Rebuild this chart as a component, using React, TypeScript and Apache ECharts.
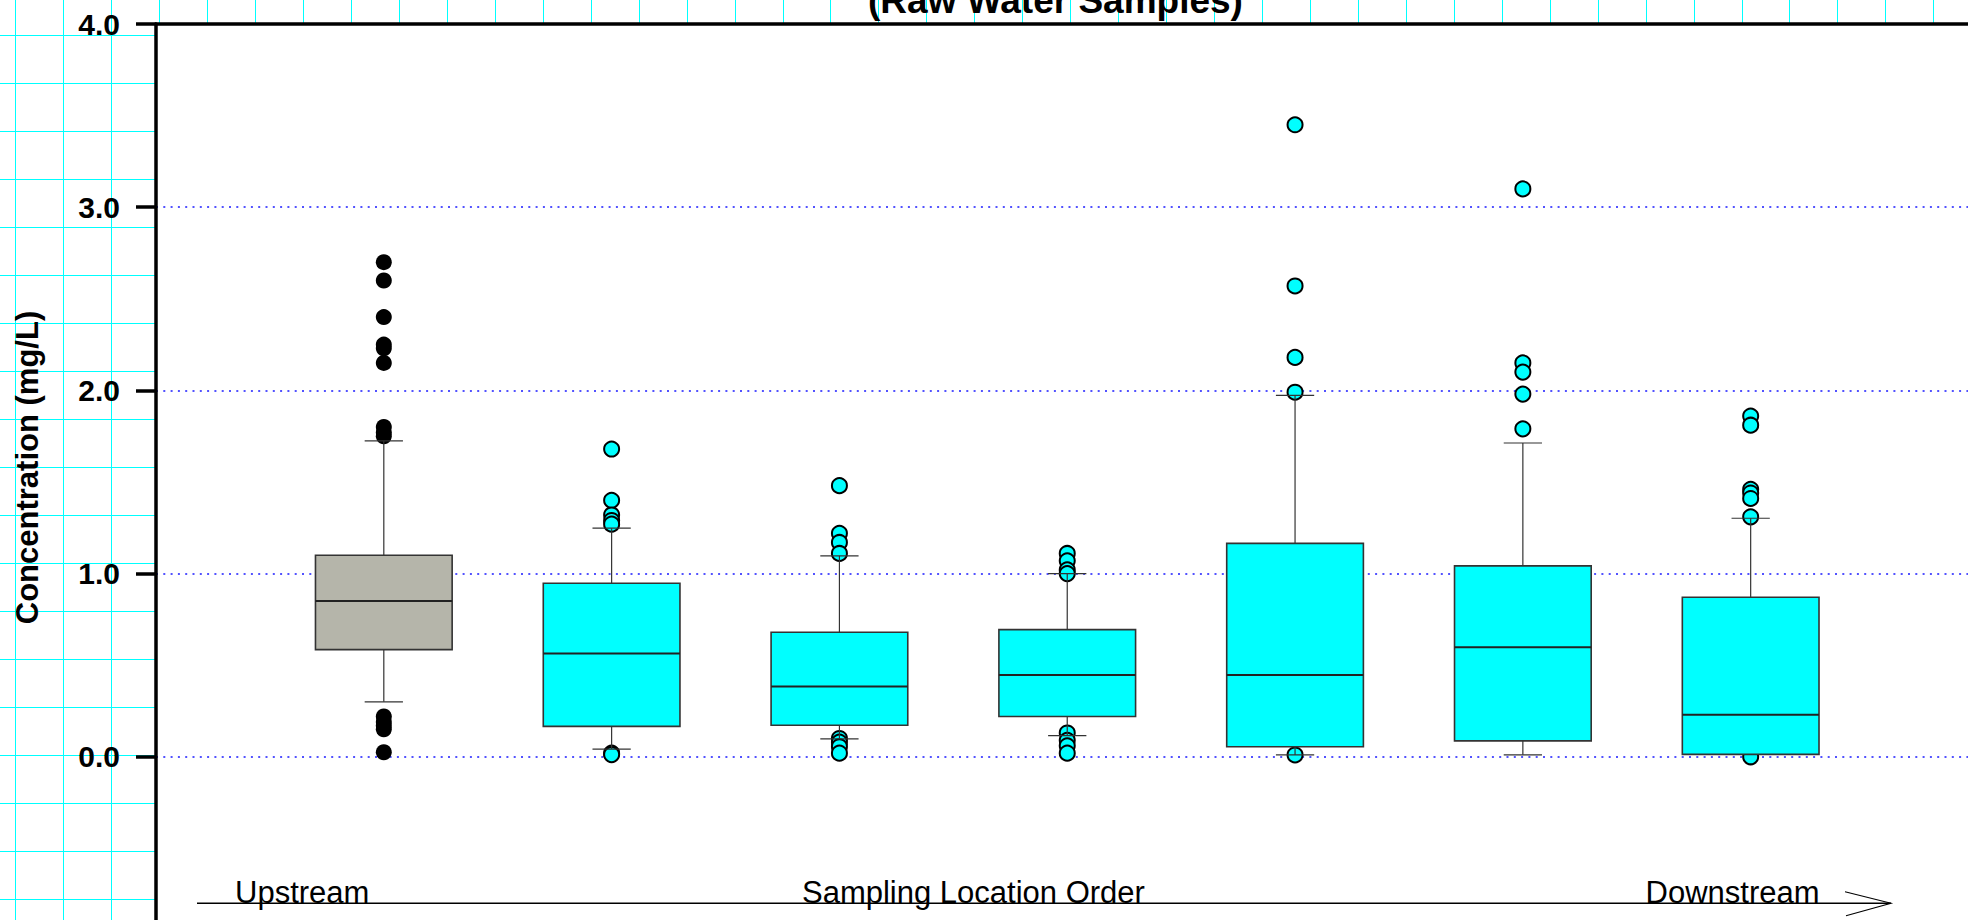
import React, { useEffect, useRef } from "react";
import * as echarts from "echarts";

// ---- Data ----
const categories = ["Location 1", "Location 2", "Location 3", "Location 4", "Location 5", "Location 6", "Location 7"];
const whiskerLow = [0.30, 0.042, 0.098, 0.116, 0.01, 0.011, 0.013];
const q1 = [0.585, 0.166, 0.172, 0.22, 0.055, 0.087, 0.013];
const median = [0.85, 0.564, 0.384, 0.447, 0.446, 0.598, 0.229];
const q3 = [1.10, 0.947, 0.68, 0.694, 1.165, 1.042, 0.871];
const whiskerHigh = [1.725, 1.248, 1.097, 1.0, 1.973, 1.713, 1.302];
const outliers = [
  [2.70, 2.60, 2.40, 2.25, 2.23, 2.15, 1.80, 1.77, 1.75, 0.22, 0.19, 0.17, 0.15, 0.025],
  [1.68, 1.40, 1.32, 1.29, 1.27, 0.02, 0.012],
  [1.48, 1.22, 1.17, 1.11, 0.10, 0.08, 0.055, 0.02],
  [1.11, 1.07, 1.02, 1.00, 0.13, 0.09, 0.06, 0.02],
  [3.45, 2.57, 2.18, 1.99, 0.01],
  [3.10, 2.15, 2.10, 1.98, 1.79],
  [1.86, 1.81, 1.46, 1.44, 1.41, 1.31, 0.0],
];
const yTickValues = [-1, 0, 1, 2, 3, 4];

const titleText = "(Raw Water Samples)";
const yAxisName = "Concentration (mg/L)";
const bottomLabels = ["Upstream", "Sampling Location Order", "Downstream"];

const FONT = "'Liberation Sans', Arial, Helvetica, sans-serif";

// canvas is taller than the window so that the y range -1..4 maps like the reference
const CHART_W = 1968;
const CHART_H = 940;

export default function App() {
  const ref = useRef<HTMLDivElement>(null);

  useEffect(() => {
    if (!ref.current) return;
    const chart = echarts.init(ref.current, undefined, { renderer: "svg" });

    const boxData = categories.map((_, i) => [i + 1, whiskerLow[i], q1[i], median[i], q3[i], whiskerHigh[i], i]);
    const blackPts: number[][] = [];
    const cyanPts: number[][] = [];
    outliers.forEach((arr, i) => {
      arr.forEach((v) => {
        if (i === 0) blackPts.push([i + 1, v]);
        else cyanPts.push([i + 1, v]);
      });
    });

    const boxWidth = 0.6; // in category units
    const capWidth = 0.168;

    const renderItem = (params: any, api: any) => {
      const x = api.value(0);
      const lo = api.value(1);
      const a = api.value(2);
      const m = api.value(3);
      const b = api.value(4);
      const hi = api.value(5);
      const idx = api.value(6);
      const pLo = api.coord([x, lo]);
      const pA = api.coord([x, a]);
      const pM = api.coord([x, m]);
      const pB = api.coord([x, b]);
      const pHi = api.coord([x, hi]);
      const hw = api.size([boxWidth, 0])[0] / 2;
      const cw = api.size([capWidth, 0])[0] / 2;
      const cx = pM[0];
      const fill = idx === 0 ? "#b5b5aa" : "#00ffff";
      const whiskerStyle = { stroke: "#333333", lineWidth: 1.2 };
      return {
        type: "group",
        children: [
          { type: "line", shape: { x1: cx, y1: pHi[1], x2: cx, y2: pB[1] }, style: whiskerStyle },
          { type: "line", shape: { x1: cx, y1: pA[1], x2: cx, y2: pLo[1] }, style: whiskerStyle },
          { type: "line", shape: { x1: cx - cw, y1: pHi[1], x2: cx + cw, y2: pHi[1] }, style: whiskerStyle },
          { type: "line", shape: { x1: cx - cw, y1: pLo[1], x2: cx + cw, y2: pLo[1] }, style: whiskerStyle },
          {
            type: "rect",
            shape: { x: cx - hw, y: pB[1], width: hw * 2, height: pA[1] - pB[1] },
            style: { fill, stroke: "#333333", lineWidth: 1.6 },
          },
          { type: "line", shape: { x1: cx - hw, y1: pM[1], x2: cx + hw, y2: pM[1] }, style: { stroke: "#222222", lineWidth: 2 } },
        ],
      };
    };

    const hidden = {
      axisLine: { show: false },
      axisTick: { show: false },
      axisLabel: { show: false },
    };
    const cyanSplit = { show: true, lineStyle: { color: "#00ffff", width: 1, type: "solid" } };

    const option: any = {
      animation: false,
      backgroundColor: "#ffffff",
      grid: [
        // main plot
        { left: 156, top: 24, right: 0, bottom: 0, show: true, backgroundColor: "#ffffff", borderWidth: 0, z: 1 },
        // background paper: vertical lines
        { left: 15.55, top: 0, right: CHART_W - 15.55 - 47.95 * 40, bottom: 0, show: false, z: -1 },
        // background paper: horizontal lines
        { left: 0, top: 35, right: 0, bottom: CHART_H - 35 - 48.03 * 18, show: false, z: -1 },
      ],
      xAxis: [
        {
          gridIndex: 0,
          type: "value",
          position: "top",
          min: 0,
          max: 7.954,
          z: 3,
          axisLine: { show: true, onZero: false, lineStyle: { color: "#000", width: 3.5 } },
          axisTick: { show: false },
          axisLabel: { show: false },
          splitLine: { show: false },
        },
        { gridIndex: 1, type: "value", min: 0, max: 47.95 * 40, interval: 47.95, z: 0, ...hidden, splitLine: cyanSplit },
        { gridIndex: 2, type: "value", min: 0, max: 1, interval: 1, z: 0, ...hidden, splitLine: { show: false } },
      ],
      yAxis: [
        {
          gridIndex: 0,
          type: "value",
          min: yTickValues[0],
          max: yTickValues[yTickValues.length - 1],
          interval: 1,
          z: 3,
          axisLine: { show: true, onZero: false, lineStyle: { color: "#000", width: 3.5 } },
          axisTick: { show: true, length: 20, lineStyle: { color: "#000", width: 3.5 } },
          axisLabel: {
            show: true,
            margin: 36,
            color: "#000",
            fontFamily: FONT,
            fontWeight: "bold",
            fontSize: 30,
            formatter: (v: number) => (v < 0 ? "" : v.toFixed(1)),
          },
          splitLine: { show: true, lineStyle: { color: "#1a1aff", width: 1.5, type: [2, 5.3] } },
        },
        { gridIndex: 1, type: "value", min: 0, max: 1, interval: 1, z: 0, ...hidden, splitLine: { show: false } },
        {
          gridIndex: 2,
          type: "value",
          inverse: true,
          min: 0,
          max: 48.03 * 18,
          interval: 48.03,
          z: 0,
          ...hidden,
          splitLine: cyanSplit,
        },
      ],
      series: [
        {
          type: "scatter",
          xAxisIndex: 0,
          yAxisIndex: 0,
          z: 4,
          symbol: "circle",
          symbolSize: 16,
          itemStyle: { color: "#000000", borderColor: "#000000", borderWidth: 0, opacity: 1 },
          data: blackPts,
        },
        {
          type: "scatter",
          xAxisIndex: 0,
          yAxisIndex: 0,
          z: 4,
          symbol: "circle",
          symbolSize: 15,
          itemStyle: { color: "#00ffff", borderColor: "#000000", borderWidth: 2, opacity: 1 },
          data: cyanPts,
        },
        {
          type: "custom",
          xAxisIndex: 0,
          yAxisIndex: 0,
          z: 5,
          renderItem,
          data: boxData,
        },
      ],
      graphic: [
        {
          type: "text",
          z: 10,
          x: 1055.5,
          y: 0.5,
          style: {
            text: titleText,
            font: `bold 37px ${FONT}`,
            fill: "#000",
            textAlign: "center",
            textVerticalAlign: "middle",
          },
        },
        {
          type: "text",
          z: 10,
          x: 27.5,
          y: 467.5,
          rotation: Math.PI / 2,
          style: {
            text: yAxisName,
            font: `bold 31px ${FONT}`,
            fill: "#000",
            textAlign: "center",
            textVerticalAlign: "middle",
          },
        },
        {
          type: "line",
          z: 10,
          shape: { x1: 197, y1: 903.3, x2: 1891, y2: 903.3 },
          style: { stroke: "#000", lineWidth: 1.4 },
        },
        {
          type: "polyline",
          z: 10,
          shape: { points: [[1845, 891.7], [1891, 903.3], [1846, 915.7]] },
          style: { stroke: "#000", lineWidth: 1.1, fill: "none" },
        },
        {
          type: "text",
          z: 10,
          x: 235,
          y: 892.6,
          style: { text: bottomLabels[0], font: `31px ${FONT}`, fill: "#000", textAlign: "left", textVerticalAlign: "middle" },
        },
        {
          type: "text",
          z: 10,
          x: 802,
          y: 892.6,
          style: { text: bottomLabels[1], font: `31px ${FONT}`, fill: "#000", textAlign: "left", textVerticalAlign: "middle" },
        },
        {
          type: "text",
          z: 10,
          x: 1645.6,
          y: 892.6,
          style: { text: bottomLabels[2], font: `31px ${FONT}`, fill: "#000", textAlign: "left", textVerticalAlign: "middle" },
        },
      ],
    };

    chart.setOption(option);
    return () => {
      chart.dispose();
    };
  }, []);

  return (
    <div
      ref={ref}
      style={{ position: "fixed", left: 0, top: 0, width: CHART_W, height: CHART_H, background: "#fff" }}
    />
  );
}
